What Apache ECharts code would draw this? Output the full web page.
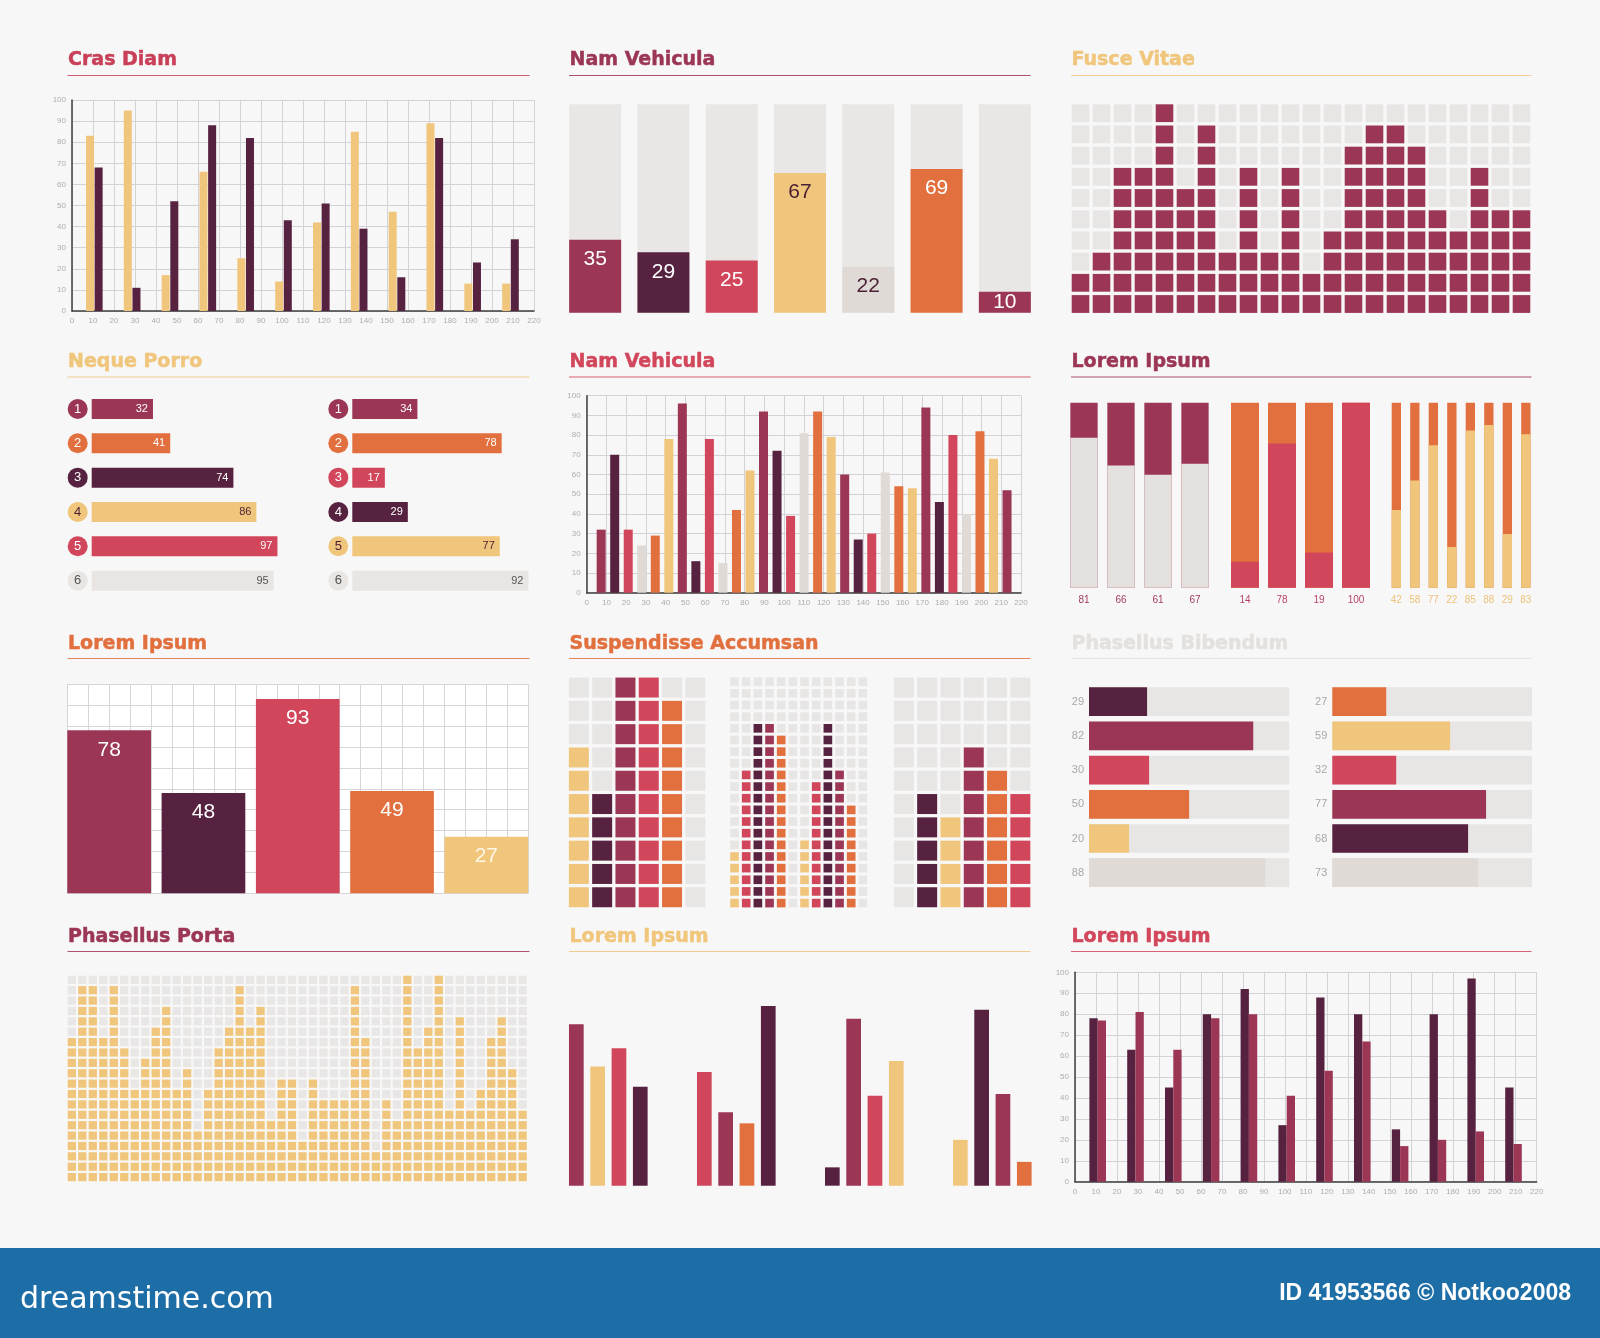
<!DOCTYPE html>
<html><head><meta charset="utf-8">
<script src="https://cdn.jsdelivr.net/npm/echarts@6/dist/echarts.min.js"></script>
<style>html,body{margin:0;padding:0;background:#F8F7F7;}#c{width:1600px;height:1338px;}</style>
</head><body><div id="c"></div><script>
// ---------- DATA ----------
const titleTexts = ['Cras Diam','Nam Vehicula','Fusce Vitae','Neque Porro','Nam Vehicula','Lorem Ipsum','Lorem Ipsum','Suspendisse Accumsan','Phasellus Bibendum','Phasellus Porta','Lorem Ipsum','Lorem Ipsum'];
// Panel 1 – Cras Diam
const crasYellow = [83,95,17,66,25,14,42,85,47,89,13,13];
const crasPurple = [68,11,52,88,82,43,51,39,16,82,23,34];
// Panel 2 – Nam Vehicula (top)
const namTopValues = [35,29,25,67,22,69,10];
// Panel 3 – Fusce Vitae (filled squares per column, of 10)
const fusceHeights = [2,3,7,7,10,6,9,3,7,3,7,2,4,8,9,9,8,5,4,7,5,5];
// Panel 4 – Neque Porro
const nequeRanks = ['1','2','3','4','5','6'];
const nequeLeft = [32,41,74,86,97,95];
const nequeRight = [34,78,17,29,77,92];
// Panel 5 – Nam Vehicula (middle)
const namMidValues = [32,70,32,24,29,78,96,16,78,15,42,62,92,72,39,81,92,79,60,27,30,61,54,53,94,46,80,40,82,68,52];
// Panel 6 – Lorem Ipsum (stacked)
const stackA = [81,66,61,67];
const stackB = [14,78,19,100];
const stackC = [42,58,77,22,85,88,29,83];
// Panel 7 – Lorem Ipsum (big bars)
const bigValues = [78,48,93,49,27];
// Panel 8 – Suspendisse Accumsan
const suspA = [7,5,10,10,9,0];
const suspB = [5,12,16,16,15,0,6,11,16,12,9,0];
const suspC = [0,5,4,7,6,5];
// Panel 9 – Phasellus Bibendum
const phasLeft = [29,82,30,50,20,88];
const phasRight = [27,59,32,77,68,73];
// Panel 10 – Phasellus Porta (filled squares per column, of 20)
const portaHeights = [14,19,19,14,19,13,9,12,15,17,9,11,5,9,13,15,19,15,17,6,10,10,4,10,8,8,8,19,14,3,8,6,20,13,15,20,7,16,7,9,14,16,11,7];
// Panel 11 – Lorem Ipsum (grouped, no axis)
const groupValues = [[88,65,75,54],[62,40,34,98],[10,91,49,68],[25,96,50,13]];
// Panel 12 – Lorem Ipsum (pairs)
const pairPurple = [78,63,45,80,92,27,88,80,25,80,97,45];
const pairMaroon = [77,81,63,78,80,41,53,67,17,20,24,18];
const footerLeft = 'dreamstime.com';
const footerRight = 'ID 41953566 \u00A9 Notkoo2008';

// ---------- STYLE ----------
const MAROON='#9B3655', PURPLE='#56223F', CRIMSON='#D2465B', ORANGE='#E2703E', YELLOW='#F0C67D', LIGHT='#E8E5E3', LIGHT2='#DFDAD6';
const FONT='"Liberation Sans", Arial, sans-serif';
const TITLE_FONT='bold 19px "DejaVu Sans", sans-serif';
function ink(c){ return (c===YELLOW||c===LIGHT||c===LIGHT2) ? '#4A1E35' : '#FFFFFF'; }

const grids=[], xAxes=[], yAxes=[], series=[], graphics=[];
function grid(left, top, width, height, x, y){
  grids.push({left, top, width, height, containLabel:false});
  const i = grids.length-1;
  xAxes.push(Object.assign({gridIndex:i}, x));
  yAxes.push(Object.assign({gridIndex:i}, y));
  return i;
}
const hidVal = (max=100)=>({type:'value', min:0, max, show:false});
const hidCat = (n)=>({type:'category', data:Array.from({length:n},(_, i)=>String(i)), show:false});
function visAxis(max){
  return {type:'value', min:0, max, interval:10,
    axisLine:{show:true, onZero:false, lineStyle:{color:'#3E3E3E', width:1.5}},
    axisTick:{show:false},
    splitLine:{show:true, lineStyle:{color:'#D3D3D7', width:1}},
    axisLabel:{fontSize:8, color:'#ADADAD', margin:6, fontFamily:FONT}};
}
function cells(gi, heights, rows, colorFor, empty, gap){
  const data=[];
  heights.forEach((h,c)=>{ for(let r=0;r<rows;r++) data.push([c, r, r<h?1:0]); });
  series.push({type:'custom', xAxisIndex:gi, yAxisIndex:gi, data, encode:{x:0, y:1},
    renderItem:(p, api)=>{
      const c=api.value(0), r=api.value(1), on=api.value(2);
      const pt=api.coord([c, r]), s=api.size([1, 1]);
      return {type:'rect', shape:{x:pt[0]-s[0]/2+gap/2, y:pt[1]-s[1]/2+gap/2, width:s[0]-gap, height:s[1]-gap},
        style:{fill: on ? colorFor(c) : empty}};
    }});
}

// Panel 1
grid(72, 100, 462, 211, visAxis(220), visAxis(100));
let g = grid(75.4, 100, 454, 211, hidCat(12), hidVal());
series.push({type:'bar', xAxisIndex:g, yAxisIndex:g, data:crasYellow, barWidth:8, barGap:'8%', itemStyle:{color:YELLOW}});
series.push({type:'bar', xAxisIndex:g, yAxisIndex:g, data:crasPurple, barWidth:8, barGap:'8%', itemStyle:{color:PURPLE}});

// Panel 2
const namTopColors=[MAROON,PURPLE,CRIMSON,YELLOW,LIGHT2,ORANGE,MAROON];
g = grid(561, 104.3, 478, 208.4, hidCat(7), hidVal());
series.push({type:'bar', xAxisIndex:g, yAxisIndex:g, barWidth:52, showBackground:true, backgroundStyle:{color:'#E9E7E5'},
  data:namTopValues.map((v,i)=>({value:v, itemStyle:{color:namTopColors[i]},
    label:{color:ink(namTopColors[i]), position:(v<15?'inside':'insideTop')}})),
  label:{show:true, position:'insideTop', distance:9, fontSize:21, fontFamily:FONT}});

// Panel 3
g = grid(1070, 102.6, 462, 212, hidCat(22), hidCat(10));
cells(g, fusceHeights, 10, ()=>MAROON, '#E8E6E5', 3.4);

// Panel 4
function neque(left, values, colors){
  const rich={};
  colors.forEach((c,i)=>{ rich['c'+i]={backgroundColor:c, color:(c===LIGHT?'#555':ink(c)), width:20, height:20, lineHeight:20, borderRadius:10, align:'center', fontSize:13, fontFamily:FONT}; });
  const gi = grid(left, 391.8, 191.5, 206, hidVal(),
    {type:'category', inverse:true, data:nequeRanks, axisLine:{show:false}, axisTick:{show:false},
     axisLabel:{margin:4, formatter:(v,i)=>'{c'+i+'|'+v+'}', rich}});
  series.push({type:'bar', xAxisIndex:gi, yAxisIndex:gi, barWidth:20,
    data:values.map((v,i)=>({value:v, itemStyle:{color:colors[i]}, label:{color:(colors[i]===LIGHT?'#555':ink(colors[i]))}})),
    label:{show:true, position:'insideRight', distance:5, fontSize:11, fontFamily:FONT}});
}
neque(91.7, nequeLeft, [MAROON,ORANGE,PURPLE,YELLOW,CRIMSON,LIGHT]);
neque(352.3, nequeRight, [MAROON,ORANGE,CRIMSON,PURPLE,YELLOW,LIGHT]);

// Panel 5
const cycle6=[MAROON,PURPLE,CRIMSON,LIGHT2,ORANGE,YELLOW];
grid(586.7, 395.7, 434.3, 197, visAxis(220), visAxis(100));
g = grid(594.4, 395.7, 419.4, 197, hidCat(namMidValues.length), hidVal());
series.push({type:'bar', xAxisIndex:g, yAxisIndex:g, barWidth:9,
  data:namMidValues.map((v,i)=>({value:v, itemStyle:{color:cycle6[i%6]}}))});

// Panel 6
function stack(left, values, barW, fill, top, labelColor){
  const gi = grid(left, 402.7, 148, 185,
    {type:'category', data:values.map(String), axisLine:{show:false}, axisTick:{show:false},
     axisLabel:{interval:0, margin:8, fontSize:10, color:labelColor, fontFamily:FONT}}, hidVal());
  series.push({type:'bar', xAxisIndex:gi, yAxisIndex:gi, barWidth:barW, data:values,
    showBackground:true, backgroundStyle:{color:top}, itemStyle:{color:fill}});
}
stack(1065.5, stackA, 27.3, '#E4E0DD', MAROON, '#A33D5C');
stack(1226.5, stackB, 28, CRIMSON, ORANGE, '#B84563');
stack(1387.1, stackC, 9.3, YELLOW, ORANGE, '#EDC27A');

// Panel 7
grids.push({left:67.3, top:684.3, width:461, height:209, show:true, backgroundColor:'#FFFFFF', borderWidth:0});
xAxes.push({gridIndex:grids.length-1, type:'value', min:0, max:22, interval:1, axisLine:{show:false}, axisTick:{show:false}, axisLabel:{show:false}, splitLine:{show:true, lineStyle:{color:'#D6D6DA'}}});
yAxes.push({gridIndex:grids.length-1, type:'value', min:0, max:100, interval:10, axisLine:{show:false}, axisTick:{show:false}, axisLabel:{show:false}, splitLine:{show:true, lineStyle:{color:'#D6D6DA'}}});
const bigColors=[MAROON,PURPLE,CRIMSON,ORANGE,YELLOW];
g = grid(62, 684.3, 471.5, 209, hidCat(5), hidVal());
series.push({type:'bar', xAxisIndex:g, yAxisIndex:g, barWidth:83.7,
  data:bigValues.map((v,i)=>({value:v, itemStyle:{color:bigColors[i]}, label:{color:(bigColors[i]===YELLOW?'#FFF6E6':'#FFFFFF')}})),
  label:{show:true, position:'insideTop', distance:9, fontSize:21, fontFamily:FONT}});

// Panel 8
const suspAColors=[YELLOW,PURPLE,MAROON,CRIMSON,ORANGE,LIGHT];
const suspBColors=[YELLOW,CRIMSON,PURPLE,MAROON,ORANGE,LIGHT,YELLOW,CRIMSON,PURPLE,MAROON,ORANGE,LIGHT];
const suspCColors=[LIGHT,PURPLE,YELLOW,MAROON,ORANGE,CRIMSON];
g = grid(567.2, 675.9, 139.8, 233, hidCat(6), hidCat(10));
cells(g, suspA, 10, c=>suspAColors[c], '#E8E6E5', 3.3);
g = grid(728.7, 675.9, 140, 233, hidCat(12), hidCat(20));
cells(g, suspB, 20, c=>suspBColors[c], '#E8E6E5', 3.0);
g = grid(892.2, 675.9, 139.8, 233, hidCat(6), hidCat(10));
cells(g, suspC, 10, c=>suspCColors[c], '#E8E6E5', 3.3);

// Panel 9
function phas(left, width, values, colors){
  const gi = grid(left, 684.6, width, 205.2, hidVal(),
    {type:'category', inverse:true, data:values.map(String), axisLine:{show:false}, axisTick:{show:false},
     axisLabel:{margin:5, fontSize:11, color:'#A8A8A8', fontFamily:FONT}});
  series.push({type:'bar', xAxisIndex:gi, yAxisIndex:gi, barWidth:28.7, showBackground:true, backgroundStyle:{color:'#E8E6E4'},
    data:values.map((v,i)=>({value:v, itemStyle:{color:colors[i]}}))});
}
phas(1089, 200.3, phasLeft, [PURPLE,MAROON,CRIMSON,ORANGE,YELLOW,LIGHT2]);
phas(1332.3, 199.7, phasRight, [ORANGE,YELLOW,CRIMSON,MAROON,PURPLE,LIGHT2]);

// Panel 10
g = grid(66.6, 974.6, 461.3, 207.7, hidCat(44), hidCat(20));
cells(g, portaHeights, 20, ()=>YELLOW, '#E9E7E6', 2.2);

// Panel 11
const groupColors=[[MAROON,YELLOW,CRIMSON,PURPLE],[CRIMSON,MAROON,ORANGE,PURPLE],[PURPLE,MAROON,CRIMSON,YELLOW],[YELLOW,PURPLE,MAROON,ORANGE]];
g = grid(544.3, 1002.3, 512, 183.4, hidCat(4), hidVal());
for(let p=0;p<4;p++){
  series.push({type:'bar', xAxisIndex:g, yAxisIndex:g, barWidth:14.7, barGap:'45%',
    data:groupValues.map((grp,k)=>({value:grp[p], itemStyle:{color:groupColors[k][p]}}))});
}

// Panel 12
grid(1075, 972.3, 461.7, 209.4, visAxis(220), visAxis(100));
g = grid(1078.8, 972.3, 453.6, 209.4, hidCat(12), hidVal());
series.push({type:'bar', xAxisIndex:g, yAxisIndex:g, data:pairPurple, barWidth:8.3, barGap:'0%', itemStyle:{color:PURPLE}});
series.push({type:'bar', xAxisIndex:g, yAxisIndex:g, data:pairMaroon, barWidth:8.3, barGap:'0%', itemStyle:{color:MAROON}});

// Titles and rules
const titleColors=['#C83F58',MAROON,YELLOW,YELLOW,CRIMSON,MAROON,ORANGE,ORANGE,'#E4E0DD',MAROON,YELLOW,CRIMSON];
const colX=[[68,67.5,529.5],[569.5,569,1030.5],[1071.5,1071,1531.5]];
const rowY=[[60,75.5],[362.5,377],[644.5,658.5],[937.5,951.5]];
titleTexts.forEach((t,i)=>{
  const r=Math.floor(i/3), c=i%3, col=titleColors[i];
  graphics.push({type:'text', x:colX[c][0], y:rowY[r][0], style:{text:t, fill:col, stroke:col, lineWidth:0.5,
    font:TITLE_FONT, textAlign:'left', align:'left', textVerticalAlign:'middle', verticalAlign:'middle'}});
  graphics.push({type:'line', shape:{x1:colX[c][1], y1:rowY[r][1], x2:colX[c][2], y2:rowY[r][1]}, style:{stroke:col, lineWidth:1.2, opacity:0.85}});
});
// Footer band
graphics.push({type:'rect', shape:{x:0, y:1248, width:1600, height:90}, style:{fill:'#1D6EA6'}});
graphics.push({type:'text', x:20, y:1300, style:{text:footerLeft, fill:'#FFFFFF', font:'30px "DejaVu Sans", sans-serif', textVerticalAlign:'middle', verticalAlign:'middle'}});
graphics.push({type:'text', x:1571, y:1294, style:{text:footerRight, fill:'#FFFFFF', font:'bold 23px "Liberation Sans", Arial, sans-serif', textAlign:'right', align:'right', textVerticalAlign:'middle', verticalAlign:'middle'}});

const chart = echarts.init(document.getElementById('c'), null, {renderer:'canvas'});
chart.setOption({backgroundColor:'#F8F7F7', animation:false, textStyle:{fontFamily:FONT},
  grid:grids, xAxis:xAxes, yAxis:yAxes, series, graphic:{elements:graphics}});
</script></body></html>
